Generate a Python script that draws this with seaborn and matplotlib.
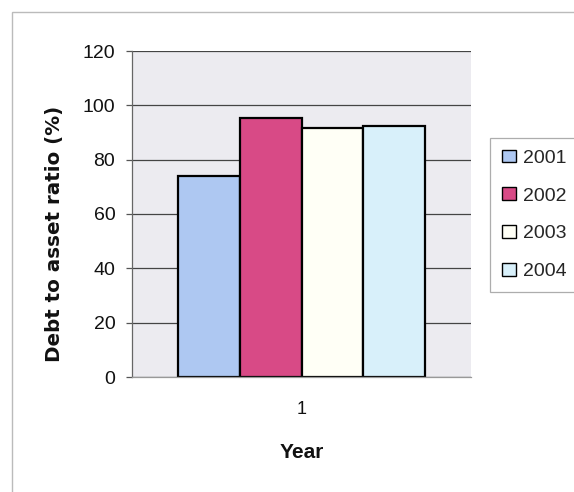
import matplotlib
matplotlib.use("Agg")
import matplotlib.pyplot as plt
from matplotlib.patches import Rectangle, Patch
import seaborn as sns
import pandas as pd

# Debt to asset ratio by year
years = ["2001", "2002", "2003", "2004"]
ratios = [74, 95.5, 91.5, 92.5]
group = ["1", "1", "1", "1"]
colors = ["#AEC8F2", "#D84A86", "#FFFFF6", "#D8F0FA"]

df = pd.DataFrame({"Year": group, "Series": years, "Ratio": ratios})

sns.set_theme(style="white")
plt.rcParams["font.family"] = ["Liberation Sans", "DejaVu Sans"]

W, H = 574, 492
fig = plt.figure(figsize=(W / 100, H / 100), dpi=100)
fig.patch.set_facecolor("white")
ax_left, ax_right, ax_top, ax_bottom = 132, 471, 51, 377
ax = fig.add_axes([ax_left / W, 1 - ax_bottom / H,
                   (ax_right - ax_left) / W, (ax_bottom - ax_top) / H])

sns.barplot(data=df, x="Year", y="Ratio", hue="Series", palette=colors,
            width=0.73, edgecolor="black", linewidth=1.6, ax=ax,
            legend=False, saturation=1)

ax.set_facecolor("#ECEBF0")
ax.set_xlim(-0.5, 0.5)
ax.set_ylim(0, 120)
ax.set_yticks(range(0, 121, 20))
ax.yaxis.grid(True, color="#444444", linewidth=0.9)
ax.set_axisbelow(True)
for side in ["top", "right"]:
    ax.spines[side].set_visible(False)
ax.spines["left"].set_color("#666666")
ax.spines["bottom"].set_color("#999999")
for side in ["left", "bottom"]:
    ax.spines[side].set_linewidth(0.9)
ax.tick_params(axis="y", direction="out", length=4.5, width=0.9,
               color="#555555", labelsize=14, pad=7.5, left=True,
               labelcolor="#111111")
ax.tick_params(axis="x", length=0, labelsize=13, pad=17,
               labelcolor="#111111")

ax.set_ylabel("Debt to asset ratio (%)", fontsize=14.3, fontweight="bold",
              family="DejaVu Sans", color="#111111")
ax.yaxis.set_label_coords((64 - ax_left) / (ax_right - ax_left),
                          (ax_bottom - 234) / (ax_bottom - ax_top))
ax.set_xlabel("Year", fontsize=15, fontweight="bold", color="#111111")
ax.xaxis.set_label_coords(0.5, (ax_bottom - 443) / (ax_bottom - ax_top))

# Legend on the right
handles = [Patch(facecolor=c, edgecolor="black", linewidth=1.0, label=y)
           for c, y in zip(colors, years)]
leg = fig.legend(handles=handles, loc="upper left",
                 bbox_to_anchor=(490 / W, 1 - 138 / H),
                 frameon=True, fancybox=False, fontsize=14,
                 handlelength=0.72, handleheight=0.62, handletextpad=0.4,
                 labelspacing=1.06, borderpad=0.6, borderaxespad=0)
leg.get_frame().set_edgecolor("#999999")
leg.get_frame().set_linewidth(0.9)

# Outer chart frame
fig.add_artist(Rectangle((12 / W, -0.05), 1.0, (1 - 12 / H) + 0.05,
                         transform=fig.transFigure, fill=False,
                         edgecolor="#BBBBBB", linewidth=1.0))

fig.savefig("out.png", dpi=100, facecolor="white")
